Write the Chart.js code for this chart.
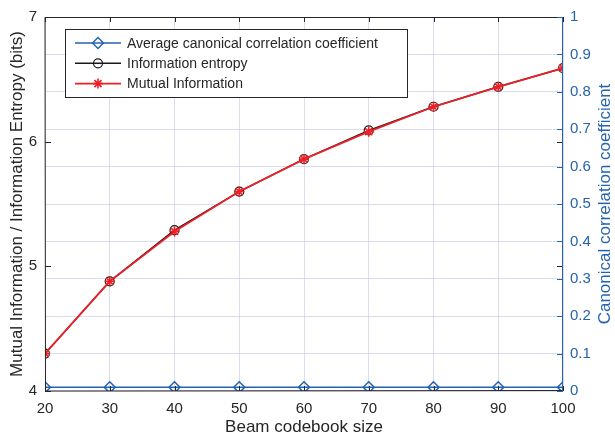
<!DOCTYPE html>
<html>
<head>
<meta charset="utf-8">
<script src="https://cdn.jsdelivr.net/npm/chart.js@4/dist/chart.umd.min.js"></script>
<style>
  html, body { margin: 0; padding: 0; background: #fff; }
  canvas { display: block; }
</style>
</head>
<body>
<canvas id="myChart" width="615" height="441"></canvas>
<script>
// values
const beamSizes = [20, 30, 40, 50, 60, 70, 80, 90, 100];
const infoEntropy = [4.30, 4.88, 5.29, 5.60, 5.86, 6.09, 6.28, 6.44, 6.59];
const mutualInfo = [4.30, 4.88, 5.28, 5.60, 5.86, 6.08, 6.28, 6.44, 6.59];
const canonCorr = [0.01, 0.01, 0.01, 0.01, 0.01, 0.01, 0.01, 0.01, 0.01];
const leftTicks = [4, 5, 6, 7];
const rightTicks = [0, 0.1, 0.2, 0.3, 0.4, 0.5, 0.6, 0.7, 0.8, 0.9, 1];

const BLUE = '#2563ad';
const GRID = 'rgba(205,205,228,0.7)';
const FONT = 'Liberation Sans, Arial, sans-serif';

function pts(ys) {
    return beamSizes.map((x, i) => ({ x: x, y: ys[i] }));
}

// inward tick marks, box, right title and legend like the original figure
const frame = {
    id: 'frame',
    afterDatasetsDraw(chart) {
        const c = chart.ctx, a = chart.chartArea;
        const x = chart.scales.x, yl = chart.scales.y, yr = chart.scales.y1;
        c.save();
        c.lineWidth = 1;
        c.strokeStyle = '#262626';
        c.beginPath();
        c.moveTo(a.right, a.top + 0.5); c.lineTo(a.left, a.top + 0.5);
        c.lineTo(a.left + 0.5, a.bottom); c.lineTo(a.right, a.bottom - 0.5);
        beamSizes.forEach(v => {
            const px = Math.round(x.getPixelForValue(v)) + 0.5;
            c.moveTo(px, a.bottom); c.lineTo(px, a.bottom - 5);
            c.moveTo(px, a.top); c.lineTo(px, a.top + 5);
        });
        leftTicks.forEach(v => {
            const py = Math.round(yl.getPixelForValue(v)) + 0.5;
            c.moveTo(a.left, py); c.lineTo(a.left + 6, py);
            c.moveTo(a.right, py); c.lineTo(a.right - 6, py);
        });
        c.stroke();
        c.strokeStyle = BLUE;
        c.beginPath();
        c.moveTo(a.right - 0.5, a.top); c.lineTo(a.right - 0.5, a.bottom);
        rightTicks.forEach(v => {
            const py = Math.round(yr.getPixelForValue(v)) + 0.5;
            c.moveTo(a.right, py); c.lineTo(a.right - 6, py);
        });
        c.stroke();
        c.restore();
    },
    afterDraw(chart) {
        const c = chart.ctx, a = chart.chartArea;
        c.save();
        // right axis title reads bottom-to-top as in the figure
        c.translate(605, (a.top + a.bottom) / 2);
        c.rotate(-Math.PI / 2);
        c.font = '17px ' + FONT;
        c.fillStyle = BLUE;
        c.textAlign = 'center';
        c.textBaseline = 'middle';
        c.fillText('Canonical correlation coefficient', 0, 0);
        c.restore();

        const bx = 65, by = 29, bw = 342, bh = 68;
        c.save();
        c.fillStyle = '#fff';
        c.fillRect(bx, by, bw, bh);
        c.strokeStyle = '#262626';
        c.lineWidth = 1;
        c.strokeRect(bx + 0.5, by + 0.5, bw, bh);
        c.font = '14px ' + FONT;
        c.textBaseline = 'middle';
        chart.data.datasets.forEach((ds, i) => {
            const yy = by + 14 + i * 20.3;
            c.strokeStyle = ds.borderColor;
            c.lineWidth = ds.borderWidth;
            c.beginPath();
            c.moveTo(75, yy); c.lineTo(121, yy);
            c.stroke();
            c.fillStyle = 'rgba(0,0,0,0)';
            c.lineWidth = ds.pointBorderWidth;
            Chart.helpers.drawPoint(c, {
                pointStyle: ds.pointStyle,
                radius: ds.pointRadius,
                borderWidth: ds.pointBorderWidth
            }, 98, yy);
            c.fillStyle = '#262626';
            c.fillText(ds.label, 127, yy + 1);
        });
        c.restore();
    }
};

const ctx = document.getElementById('myChart').getContext('2d');

const myChart = new Chart(ctx, {
    type: 'line',
    data: {
        datasets: [{
            label: 'Average canonical correlation coefficient',
            data: pts(canonCorr),
            yAxisID: 'y1',
            order: 2,
            borderColor: BLUE,
            backgroundColor: 'rgba(0,0,0,0)',
            borderWidth: 1.5,
            pointStyle: 'rectRot',
            pointRadius: 5.5,
            pointBorderWidth: 1.5
        }, {
            label: 'Information entropy',
            data: pts(infoEntropy),
            yAxisID: 'y',
            order: 1,
            borderColor: '#1a1a1a',
            backgroundColor: 'rgba(0,0,0,0)',
            borderWidth: 1.5,
            pointStyle: 'circle',
            pointRadius: 4.5,
            pointBorderWidth: 1.2
        }, {
            label: 'Mutual Information',
            data: pts(mutualInfo),
            yAxisID: 'y',
            order: 0,
            borderColor: '#ee2027',
            backgroundColor: 'rgba(0,0,0,0)',
            borderWidth: 1.8,
            pointStyle: 'star',
            pointRadius: 5,
            pointBorderWidth: 1.6
        }]
    },
    options: {
        responsive: false,
        animation: false,
        layout: { padding: { top: 10, left: 0, right: 0, bottom: 0 } },
        plugins: {
            legend: { display: false },
            tooltip: { enabled: false }
        },
        scales: {
            x: {
                type: 'linear',
                min: 20,
                max: 100,
                afterBuildTicks: s => { s.ticks = beamSizes.map(v => ({ value: v })); },
                afterFit: s => { s.height = 50; },
                grid: { color: GRID, drawTicks: false },
                border: { display: false },
                ticks: { color: '#262626', font: { family: FONT, size: 15 }, padding: 9, maxRotation: 0 },
                title: { display: true, text: 'Beam codebook size', color: '#262626',
                         font: { family: FONT, size: 17 }, padding: { top: 0, bottom: 3 } }
            },
            y: {
                position: 'left',
                min: 4,
                max: 7,
                afterBuildTicks: s => { s.ticks = leftTicks.map(v => ({ value: v })); },
                afterFit: s => { s.width = 45; },
                grid: { display: false, drawTicks: false },
                border: { display: false },
                ticks: { color: '#262626', font: { family: FONT, size: 15 }, padding: 8 },
                title: { display: true, text: 'Mutual Information / Information Entropy (bits)', color: '#262626',
                         font: { family: FONT, size: 17 }, padding: { top: 7, bottom: 0 } }
            },
            y1: {
                position: 'right',
                min: 0,
                max: 1,
                afterBuildTicks: s => { s.ticks = rightTicks.map(v => ({ value: v })); },
                afterFit: s => { s.width = 52; },
                grid: { color: GRID, drawTicks: false },
                border: { display: false },
                ticks: { color: BLUE, font: { family: FONT, size: 15 }, padding: 7,
                         callback: v => String(Math.round(v * 10) / 10) },
                title: { display: false }
            }
        }
    },
    plugins: [frame]
});
</script>
</body>
</html>
